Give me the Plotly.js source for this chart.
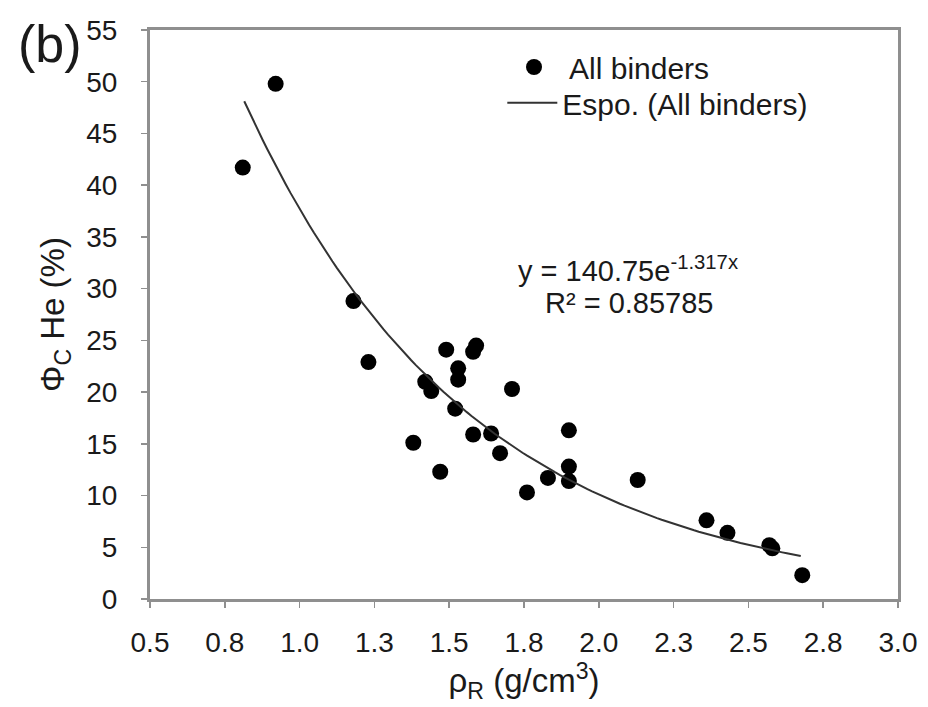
<!DOCTYPE html>
<html>
<head>
<meta charset="utf-8">
<script src="https://cdn.plot.ly/plotly-3.0.1.min.js"></script>
<style>html,body{margin:0;padding:0;background:#fff;}#chart{width:928px;height:707px;}</style>
</head>
<body>
<div id="chart"></div>
<script>
// Measured points: density rho_R (g/cm3) and porosity Phi_C He (%)
const rhoR = [0.81, 0.92, 1.18, 1.23, 1.38, 1.42, 1.44, 1.47, 1.49, 1.52,
              1.53, 1.53, 1.58, 1.58, 1.59, 1.64, 1.67, 1.71, 1.76, 1.83,
              1.90, 1.90, 1.90, 2.13, 2.36, 2.43, 2.57, 2.58, 2.68];
const phiC = [41.7, 49.8, 28.8, 22.9, 15.1, 21.0, 20.1, 12.3, 24.1, 18.4,
              22.3, 21.2, 15.9, 23.9, 24.5, 16.0, 14.1, 20.3, 10.3, 11.7,
              16.3, 12.8, 11.4, 11.5, 7.6, 6.4, 5.2, 4.9, 2.3];
// Exponential trendline coefficients shown on the chart
const fitA = 140.75;
const fitB = -1.317;
const fitRange = [0.815, 2.675];
const xTickVals = [0.5, 0.75, 1.0, 1.25, 1.5, 1.75, 2.0, 2.25, 2.5, 2.75, 3.0];
const xTickText = ['0.5','0.8','1.0','1.3','1.5','1.8','2.0','2.3','2.5','2.8','3.0'];

const nFit = 120;
const fitX = [], fitY = [];
for (let i = 0; i <= nFit; i++) {
  const x = fitRange[0] + (fitRange[1] - fitRange[0]) * i / nFit;
  fitX.push(x);
  fitY.push(fitA * Math.exp(fitB * x));
}

const font = 'Liberation Sans, Arial, sans-serif';
const txt = '#1a1a1a';
const axCol = '#8f8f8f';

const traces = [
  {x: rhoR, y: phiC, mode: 'markers', type: 'scatter', name: 'All binders',
   marker: {color: '#000', size: 16}, legend: 'legend'},
  {x: fitX, y: fitY, mode: 'lines', type: 'scatter', name: 'Espo. (All binders)',
   line: {color: '#333', width: 2}, legend: 'legend2'}
];

const axisCommon = {
  showgrid: false, zeroline: false, showline: true, mirror: true,
  linecolor: axCol, linewidth: 3, ticks: 'outside', ticklen: 6,
  tickcolor: axCol, tickwidth: 1.5,
  tickfont: {family: font, size: 28, color: txt}
};

const legendFont = {family: font, size: 30, color: txt};

const layout = {
  width: 928, height: 707,
  margin: {l: 150, r: 30, t: 30, b: 108},
  paper_bgcolor: '#fff', plot_bgcolor: '#fff',
  showlegend: true,
  legend: {x: 0.4666, y: 0.935, xanchor: 'left', yanchor: 'middle',
           font: legendFont, bgcolor: 'rgba(0,0,0,0)', itemwidth: 60},
  legend2: {x: 0.471, y: 0.872, xanchor: 'left', yanchor: 'middle',
           font: legendFont, bgcolor: 'rgba(0,0,0,0)', itemwidth: 50},
  xaxis: Object.assign({}, axisCommon, {
    range: [0.5, 3.0], tickmode: 'array', tickvals: xTickVals, ticktext: xTickText,
    ticklabelstandoff: 10,
    title: {text: 'ρ<sub>R</sub> (g/cm<sup>3</sup>)', font: {family: font, size: 33, color: txt}, standoff: 10}
  }),
  yaxis: Object.assign({}, axisCommon, {
    range: [0, 55], tickmode: 'linear', tick0: 0, dtick: 5,
    ticklabelstandoff: 18,
    title: {text: 'Φ<sub>C</sub> He (%)', font: {family: font, size: 33, color: txt}, standoff: 12}
  }),
  annotations: [
    {xref: 'paper', yref: 'paper', x: -0.1337, y: 0.976, xanchor: 'center', yanchor: 'middle',
     text: '(b)', showarrow: false, font: {family: font, size: 52, color: txt}},
    {xref: 'paper', yref: 'paper', x: 0.639, y: 0.58, xanchor: 'center', yanchor: 'middle',
     text: 'y = 140.75e<sup>-1.317x</sup>', showarrow: false, font: {family: font, size: 29, color: txt}},
    {xref: 'paper', yref: 'paper', x: 0.641, y: 0.52, xanchor: 'center', yanchor: 'middle',
     text: 'R² = 0.85785', showarrow: false, font: {family: font, size: 29, color: txt}}
  ]
};

Plotly.newPlot('chart', traces, layout, {displayModeBar: false, staticPlot: true});
</script>
</body>
</html>
